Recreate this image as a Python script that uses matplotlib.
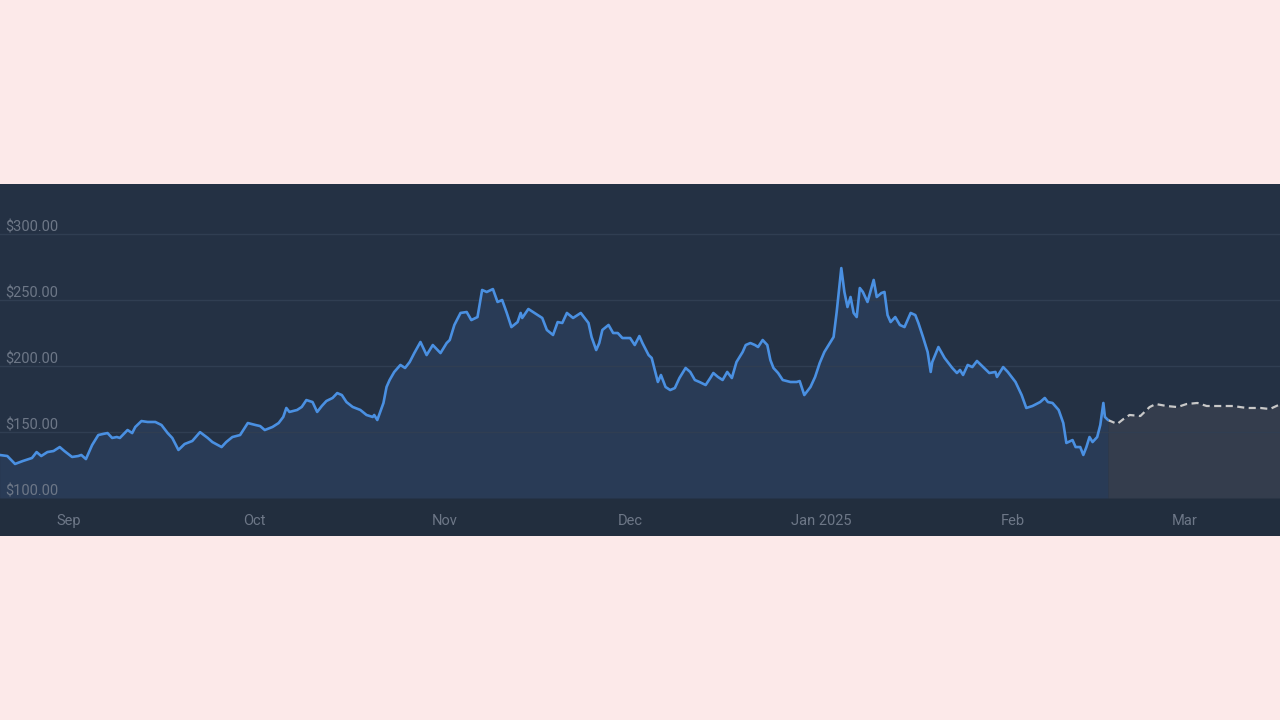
import matplotlib
matplotlib.use("Agg")
import matplotlib.pyplot as plt
import matplotlib.transforms as mtransforms
from matplotlib.patches import Rectangle
import pandas as pd

# ---------------- data ----------------
actual_dates = [
    "2024-08-20 18:00", "2024-08-22 00:00", "2024-08-23 06:00", "2024-08-24 12:00", "2024-08-26 00:00",
    "2024-08-26 18:00", "2024-08-27 12:00", "2024-08-28 12:00", "2024-08-29 12:00", "2024-08-30 12:00",
    "2024-08-31 06:00", "2024-09-01 12:00", "2024-09-02 12:00", "2024-09-03 00:00", "2024-09-03 18:00",
    "2024-09-04 18:00", "2024-09-05 18:00", "2024-09-06 12:00", "2024-09-07 06:00", "2024-09-08 00:00",
    "2024-09-08 18:00", "2024-09-09 06:00", "2024-09-10 12:00", "2024-09-11 06:00", "2024-09-11 18:00",
    "2024-09-12 18:00", "2024-09-13 18:00", "2024-09-15 00:00", "2024-09-16 00:00", "2024-09-17 00:00",
    "2024-09-17 18:00", "2024-09-18 18:00", "2024-09-19 18:00", "2024-09-21 00:00", "2024-09-22 06:00",
    "2024-09-23 12:00", "2024-09-24 06:00", "2024-09-25 18:00", "2024-09-26 12:00", "2024-09-27 12:00",
    "2024-09-28 18:00", "2024-09-30 00:00", "2024-10-01 06:00", "2024-10-02 00:00", "2024-10-02 18:00",
    "2024-10-04 00:00", "2024-10-05 00:00", "2024-10-05 18:00", "2024-10-06 06:00", "2024-10-06 18:00",
    "2024-10-08 00:00", "2024-10-08 18:00", "2024-10-09 12:00", "2024-10-10 12:00", "2024-10-11 06:00",
    "2024-10-12 00:00", "2024-10-12 18:00", "2024-10-13 18:00", "2024-10-14 12:00", "2024-10-15 06:00",
    "2024-10-16 00:00", "2024-10-17 00:00", "2024-10-18 06:00", "2024-10-19 06:00", "2024-10-20 06:00",
    "2024-10-20 12:00", "2024-10-21 00:00", "2024-10-22 00:00", "2024-10-22 12:00", "2024-10-23 00:00",
    "2024-10-23 18:00", "2024-10-24 18:00", "2024-10-25 12:00", "2024-10-26 06:00", "2024-10-27 00:00",
    "2024-10-28 00:00", "2024-10-29 00:00", "2024-10-30 00:00", "2024-10-31 06:00", "2024-11-01 06:00",
    "2024-11-01 18:00", "2024-11-02 12:00", "2024-11-03 12:00", "2024-11-04 12:00", "2024-11-05 06:00",
    "2024-11-06 06:00", "2024-11-07 00:00", "2024-11-07 18:00", "2024-11-08 18:00", "2024-11-09 12:00",
    "2024-11-10 06:00", "2024-11-11 00:00", "2024-11-11 18:00", "2024-11-12 18:00", "2024-11-13 06:00",
    "2024-11-13 12:00", "2024-11-14 12:00", "2024-11-15 12:00", "2024-11-16 18:00", "2024-11-17 12:00",
    "2024-11-18 12:00", "2024-11-19 06:00", "2024-11-20 00:00", "2024-11-20 18:00", "2024-11-21 18:00",
    "2024-11-23 00:00", "2024-11-24 06:00", "2024-11-24 18:00", "2024-11-25 12:00", "2024-11-26 00:00",
    "2024-11-26 12:00", "2024-11-27 12:00", "2024-11-28 06:00", "2024-11-29 00:00", "2024-11-29 18:00",
    "2024-12-01 00:00", "2024-12-01 18:00", "2024-12-02 12:00", "2024-12-03 00:00", "2024-12-04 00:00",
    "2024-12-04 12:00", "2024-12-05 00:00", "2024-12-05 12:00", "2024-12-06 00:00", "2024-12-06 18:00",
    "2024-12-07 12:00", "2024-12-08 06:00", "2024-12-09 00:00", "2024-12-10 00:00", "2024-12-10 18:00",
    "2024-12-11 12:00", "2024-12-12 06:00", "2024-12-13 06:00", "2024-12-14 00:00", "2024-12-14 12:00",
    "2024-12-15 06:00", "2024-12-16 00:00", "2024-12-16 18:00", "2024-12-17 12:00", "2024-12-18 06:00",
    "2024-12-19 06:00", "2024-12-19 18:00", "2024-12-20 12:00", "2024-12-21 06:00", "2024-12-21 18:00",
    "2024-12-22 12:00", "2024-12-23 06:00", "2024-12-23 18:00", "2024-12-24 06:00", "2024-12-25 00:00",
    "2024-12-25 18:00", "2024-12-27 00:00", "2024-12-28 00:00", "2024-12-28 12:00", "2024-12-29 06:00",
    "2024-12-30 06:00", "2024-12-31 00:00", "2024-12-31 18:00", "2025-01-01 12:00", "2025-01-02 12:00",
    "2025-01-03 00:00", "2025-01-03 12:00", "2025-01-04 06:00", "2025-01-04 18:00", "2025-01-05 06:00",
    "2025-01-05 18:00", "2025-01-06 06:00", "2025-01-06 18:00", "2025-01-07 06:00", "2025-01-07 18:00",
    "2025-01-08 12:00", "2025-01-09 12:00", "2025-01-10 00:00", "2025-01-10 18:00", "2025-01-11 06:00",
    "2025-01-11 18:00", "2025-01-12 06:00", "2025-01-13 00:00", "2025-01-13 18:00", "2025-01-14 12:00",
    "2025-01-15 12:00", "2025-01-16 06:00", "2025-01-16 18:00", "2025-01-17 12:00", "2025-01-18 06:00",
    "2025-01-18 18:00", "2025-01-19 00:00", "2025-01-20 00:00", "2025-01-21 00:00", "2025-01-22 06:00",
    "2025-01-23 00:00", "2025-01-23 12:00", "2025-01-24 00:00", "2025-01-24 18:00", "2025-01-25 12:00",
    "2025-01-26 06:00", "2025-01-27 06:00", "2025-01-28 06:00", "2025-01-29 06:00", "2025-01-29 12:00",
    "2025-01-30 12:00", "2025-01-31 06:00", "2025-02-01 12:00", "2025-02-02 12:00", "2025-02-03 06:00",
    "2025-02-04 06:00", "2025-02-05 12:00", "2025-02-06 06:00", "2025-02-06 18:00", "2025-02-07 12:00",
    "2025-02-08 12:00", "2025-02-09 06:00", "2025-02-09 18:00", "2025-02-10 18:00", "2025-02-11 06:00",
    "2025-02-12 00:00", "2025-02-12 12:00", "2025-02-13 00:00", "2025-02-13 12:00", "2025-02-14 00:00",
    "2025-02-14 18:00", "2025-02-15 06:00", "2025-02-15 18:00", "2025-02-16 00:00", "2025-02-16 12:00",
]
actual_prices = [
    132.6, 131.8, 125.8, 128.0, 130.3, 134.8, 131.8, 134.8, 135.6, 138.6,
    135.6, 131.1, 131.8, 132.6, 129.5, 140.1, 147.7, 148.5, 149.2, 145.5,
    146.2, 145.5, 151.5, 149.2, 153.8, 158.3, 157.6, 157.6, 155.3, 149.2,
    145.5, 136.4, 140.9, 143.2, 149.9, 145.5, 142.4, 138.6, 142.4, 146.2,
    147.7, 156.8, 155.3, 154.5, 151.5, 153.8, 156.8, 161.4, 168.2, 165.2,
    166.7, 169.0, 174.2, 172.7, 165.2, 169.7, 173.5, 175.8, 179.5, 178.0,
    172.7, 169.0, 166.7, 162.9, 161.4, 162.9, 159.1, 172.0, 184.1, 189.4,
    195.5, 200.8, 198.5, 203.0, 209.8, 218.2, 208.3, 215.9, 209.8, 217.4,
    219.7, 231.1, 240.2, 240.9, 234.8, 237.1, 257.6, 256.1, 258.3, 248.5,
    250.0, 240.2, 229.5, 233.3, 240.2, 236.4, 243.2, 240.2, 236.4, 227.3,
    223.5, 233.3, 232.6, 240.2, 236.4, 240.2, 232.6, 222.0, 212.1, 217.4,
    227.3, 231.1, 225.0, 225.0, 221.2, 221.2, 215.9, 222.7, 217.4, 208.3,
    206.1, 197.0, 187.9, 193.2, 184.1, 181.8, 183.3, 190.9, 198.5, 195.5,
    189.4, 187.9, 185.6, 190.9, 194.7, 191.7, 189.4, 195.5, 190.9, 203.0,
    210.6, 215.9, 217.4, 215.9, 214.4, 219.7, 215.9, 204.5, 198.5, 194.7,
    189.4, 187.9, 187.9, 188.6, 178.0, 184.1, 191.7, 202.3, 210.6, 218.2,
    222.0, 240.9, 274.2, 256.1, 244.7, 252.3, 240.2, 237.1, 259.1, 256.1,
    248.5, 265.2, 252.3, 255.3, 256.1, 238.6, 233.3, 237.1, 231.1, 229.5,
    240.2, 238.6, 232.6, 222.0, 210.6, 195.5, 203.0, 214.4, 206.1, 198.5,
    194.7, 197.0, 193.2, 200.8, 199.2, 203.8, 199.2, 194.7, 195.5, 191.7,
    199.2, 195.5, 187.9, 178.0, 168.2, 169.7, 172.7, 175.8, 172.7, 172.0,
    166.7, 156.8, 141.7, 143.9, 138.6, 138.6, 132.6, 138.6, 146.2, 142.4,
    146.2, 155.3, 172.0, 161.4, 159.1,
]
forecast_dates = [
    "2025-02-16 12:00", "2025-02-18 00:00", "2025-02-19 00:00", "2025-02-20 00:00", "2025-02-21 18:00",
    "2025-02-23 06:00", "2025-02-24 06:00", "2025-02-26 00:00", "2025-02-27 18:00", "2025-03-01 06:00",
    "2025-03-03 00:00", "2025-03-04 12:00", "2025-03-06 18:00", "2025-03-08 18:00", "2025-03-11 00:00",
    "2025-03-13 06:00", "2025-03-14 18:00", "2025-03-16 12:00",
]
forecast_prices = [
    159.1, 156.1, 159.8, 162.9, 162.1, 168.9, 171.2, 169.7, 168.9, 171.2,
    172.0, 169.7, 169.7, 169.7, 168.2, 168.2, 167.4, 171.2,
]
month_ticks = ["2024-09-01", "2024-10-01", "2024-11-01", "2024-12-01",
               "2025-01-01", "2025-02-01", "2025-03-01"]
month_labels = ["Sep", "Oct", "Nov", "Dec", "Jan 2025", "Feb", "Mar"]
y_ticks = [100, 150, 200, 250, 300]

# ---------------- style ----------------
FIG_BG = "#fce9e9"
PLOT_BG = "#243144"
STRIP_BG = "#222e3e"
FILL_BLUE = "#293b56"
FILL_FORE = "#343d4d"
LINE_BLUE = "#4a90e2"
LINE_FORE = "#c8c8c8"
GRID = "#303e52"
TXT = "#6d7787"

plt.rcParams["font.family"] = ["Roboto", "DejaVu Sans"]

ad = pd.to_datetime(actual_dates)
fd = pd.to_datetime(forecast_dates)

fig = plt.figure(figsize=(12.8, 7.2), dpi=100, facecolor=FIG_BG)

# bottom strip holding the x-axis labels (drawn beneath the axes)
fig.patches.append(Rectangle((0, (720 - 536) / 720), 1, (536 - 498) / 720,
                             transform=fig.transFigure, facecolor=STRIP_BG,
                             edgecolor="none", zorder=-5))

ax = fig.add_axes([0, (720 - 498) / 720, 1, (498 - 184) / 720])
ax.set_facecolor(PLOT_BG)

ymin, ymax = 100, 337.9
ax.set_ylim(ymin, ymax)
ax.set_xlim(pd.Timestamp("2024-08-20 19:30"), pd.Timestamp("2025-03-16 09:30"))

ax.fill_between(ad, actual_prices, ymin, color=FILL_BLUE, lw=0, zorder=1)
ax.fill_between(fd, forecast_prices, ymin, color=FILL_FORE, lw=0, zorder=1)

for v in y_ticks:
    ax.axhline(v, color=GRID, lw=1.0, zorder=2)

ax.plot(ad, actual_prices, color=LINE_BLUE, lw=1.9, zorder=4,
        solid_joinstyle="round", solid_capstyle="round")
ax.plot(fd, forecast_prices, color=LINE_FORE, lw=1.6, zorder=3,
        dashes=(3.2, 2.0))

# y labels drawn just above each gridline at the left
trans = mtransforms.blended_transform_factory(ax.transAxes, ax.transData)
trans = mtransforms.offset_copy(trans, fig=fig, x=0, y=-0.6, units="points")
for v in y_ticks:
    ax.text(0.004, v, "\\$%.2f" % v, transform=trans, color=TXT,
            fontsize=10.5, ha="left", va="bottom", zorder=5)

ax.set_yticks([])
ax.set_xticks(pd.to_datetime(month_ticks))
ax.set_xticklabels(month_labels, color=TXT, fontsize=10.5)
ax.tick_params(axis="x", length=0, pad=11.5)
for s in ax.spines.values():
    s.set_visible(False)

fig.savefig("out.png", dpi=100, facecolor=FIG_BG)
